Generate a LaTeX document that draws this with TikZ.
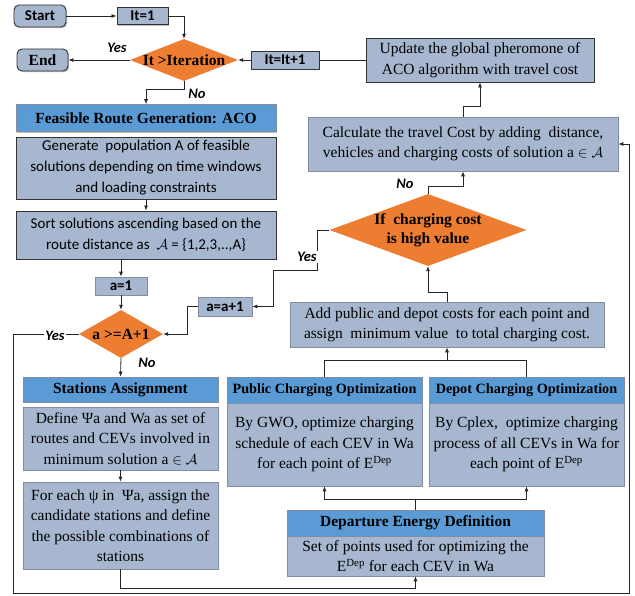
\documentclass[tikz,border=0pt]{standalone}
\usepackage{fontspec}
\setmainfont{Liberation Serif}
\newfontfamily\calib{Carlito}
\usetikzlibrary{shapes.geometric,arrows.meta,shadows}
\definecolor{boxgray}{RGB}{167,183,207}
\definecolor{headblue}{RGB}{91,155,213}
\definecolor{dorange}{RGB}{237,125,49}
\definecolor{lborder}{RGB}{130,140,160}
\begin{document}
\begin{tikzpicture}[x=1pt,y=-1pt,
  every node/.style={inner sep=1pt, align=center},
  shad/.style={drop shadow={shadow xshift=1.2pt,shadow yshift=-1.2pt,opacity=0.25,fill=black}},
  gbox/.style={shad, draw=lborder, fill=boxgray, line width=0.6pt, font=\fontsize{15.5}{20.5}\selectfont},
  dbox/.style={gbox, draw=black!80, line width=0.9pt},
  sbox/.style={gbox, draw=black!80, line width=0.9pt, font=\calib\fontsize{15}{21}\selectfont},
  smallbox/.style={shad, draw=black!80, fill=boxgray, line width=0.9pt, font=\calib\bfseries\fontsize{15}{18}\selectfont},
  lsmallbox/.style={smallbox, draw=lborder, line width=0.6pt},
  hbox/.style={shad, draw=lborder, fill=headblue, line width=0.6pt, font=\bfseries\fontsize{15.5}{19}\selectfont},
  rbox/.style={shad, draw=black!80, fill=boxgray, line width=0.9pt, rounded corners=5pt},
  dia/.style={diamond, fill=dorange, draw=none, inner sep=0pt},
  diatext/.style={font=\bfseries\fontsize{15.5}{19}\selectfont},
  lab/.style={fill=white, inner sep=1.5pt, font=\calib\bfseries\itshape\fontsize{14.5}{16}\selectfont},
  arr/.style={-{Latex[length=5pt,width=4pt]}, line width=0.8pt, draw=black!85},
  ln/.style={line width=0.8pt, draw=black!85},
]
\useasboundingbox[fill=white] (0,0) rectangle (635,596);

% top row
\node[rbox, minimum width=52, minimum height=22, font=\calib\bfseries\fontsize{15}{18}\selectfont] (start) at (40,16) {Start};
\node[smallbox, minimum width=51, minimum height=17] (it1) at (142.5,16) {It=1};
\node[rbox, minimum width=51, minimum height=22, font=\bfseries\fontsize{15.5}{18}\selectfont] (end) at (42.5,60) {End};
\node[dia, minimum width=108, minimum height=42] (d1) at (184,60) {};
\node[diatext] at (d1.center) {It >Iteration};
\node[smallbox, minimum width=68, minimum height=18] (itinc) at (285,60) {It=It+1};
\node[dbox, minimum width=228, minimum height=44] (update) at (480,60) {Update the global pheromone of\\ACO algorithm with travel cost};

% left column
\node[hbox, minimum width=260, minimum height=27] (feas) at (146,118) {Feasible Route Generation: ACO};
\node[sbox, minimum width=260, minimum height=62] (gen) at (146,168) {Generate ~population A of feasible\\solutions depending on time windows\\and loading constraints};
\node[sbox, minimum width=260, minimum height=48] (sort) at (146,235) {Sort solutions ascending based on the\\route distance as ~$\mathcal{A}$ = \{1,2,3,..,A\}};
\node[lsmallbox, minimum width=52, minimum height=18] (a1) at (121,286) {a=1};
\node[dia, minimum width=84, minimum height=48] (d2) at (121,334) {};
\node[diatext] at (d2.center) {a >=A+1};
\node[lsmallbox, minimum width=54, minimum height=19] (aplus) at (225,306.5) {a=a+1};

\node[hbox, minimum width=195, minimum height=25] (sthead) at (120.5,389.5) {Stations Assignment};
\node[gbox, minimum width=195, minimum height=63] (define) at (120.5,438.5) {Define Ψa and Wa as set of\\routes and CEVs involved in\\minimum solution a $\in\mathcal{A}$};
\node[gbox, minimum width=195, minimum height=87] (foreach) at (120.5,525.5) {For each ψ in ~Ψa, assign the\\candidate stations and define\\the possible combinations of\\stations};

% right column
\node[gbox, minimum width=310, minimum height=54] (calc) at (463,144) {Calculate the travel Cost by adding ~distance,\\vehicles and charging costs of solution a $\in\mathcal{A}$};
\node[dia, minimum width=197, minimum height=72] (d3) at (428,230) {};
\node[diatext] at (d3.center) {If ~charging cost\\is high value};
\node[gbox, minimum width=314, minimum height=45] (add) at (447,324.5) {Add public and depot costs for each point and\\assign ~minimum value ~to total charging cost.};

\node[gbox, minimum width=195, minimum height=83] (pubbody) at (324.5,444.5) {By GWO, optimize charging\\schedule of each CEV in Wa\\for each point of E\textsuperscript{Dep}};
\node[hbox, minimum width=195, minimum height=26, font=\bfseries\fontsize{14.2}{18}\selectfont] (pubhead) at (324.5,390) {Public Charging Optimization};
\node[gbox, minimum width=195, minimum height=83] (depbody) at (526.5,444.5) {By Cplex, ~optimize charging\\process of all CEVs in Wa for\\each point of E\textsuperscript{Dep}};
\node[hbox, minimum width=195, minimum height=26, font=\bfseries\fontsize{14.2}{18}\selectfont] (dephead) at (526.5,390) {Depot Charging Optimization};

\node[gbox, minimum width=257, minimum height=40, inner sep=0pt, font=\fontsize{15.5}{20}\selectfont] (debody) at (415.5,556) {Set of points used for optimizing the\\E\textsuperscript{Dep} for each CEV in Wa};
\node[hbox, minimum width=257, minimum height=26] (dehead) at (415.5,523) {Departure Energy Definition};

% frame coordinates
\coordinate (fl) at (13,593);
\coordinate (fr) at (629,593);
\coordinate (yb) at (273,270);

% connectors
\draw[arr] (start.east) -- (it1.west);
\draw[arr] (it1.east) -| (d1.north);
\draw[arr] (d1.west) -- (end.east);
\draw[arr] (itinc.west) -- (d1.east);
\draw[ln] (update.west) -- (itinc.east);
\draw[arr] (d1.south) -- ++(0,8) -| (feas.north);
\draw[arr] (gen.south) -- (sort.north);
\draw[arr] (sort.south -| a1.north) -- (a1.north);
\draw[arr] (a1.south) -- (d2.north);
\draw[arr] (d2.west) -| (fl) -- (fr) |- (calc.east);
\draw[arr] (d2.south) -- (sthead.north);
\draw[arr] (aplus.west) -- ++(-10,0) |- (d2.east);
\draw[arr] (d3.west) -- ++(-12,0) |- (yb) |- (aplus.east);
\draw[arr] (add.north) -- ++(0,-9) -| (d3.south);
\draw[arr] (d3.north) -- ++(0,-7) -| (calc.south);
\draw[arr] (calc.north) -- ++(0,-10) -| (update.south);
\draw[ln] (pubhead.north) -- ++(0,-16) -| (dephead.north);
\draw[arr] (add.south) ++(0,14) -- (add.south);
\draw[arr] (dehead.north) -- ++(0,-10) -| (pubbody.south);
\draw[arr] (dehead.north) -- ++(0,-10) -| (depbody.south);
\draw[arr] (define.south) -- (foreach.north);
\draw[arr] (foreach.south) -- ++(0,19) -| (debody.south);

% labels
\node[lab] (yes1) at (117,48) {Yes};
\node[lab] (no1) at (197,94) {No};
\node[lab] (yes2) at (55,336) {Yes};
\node[lab] (no2) at (147,363) {No};
\node[lab] (yes3) at (307,257) {Yes};
\node[lab] (no3) at (405,184) {No};
\end{tikzpicture}
\end{document}
